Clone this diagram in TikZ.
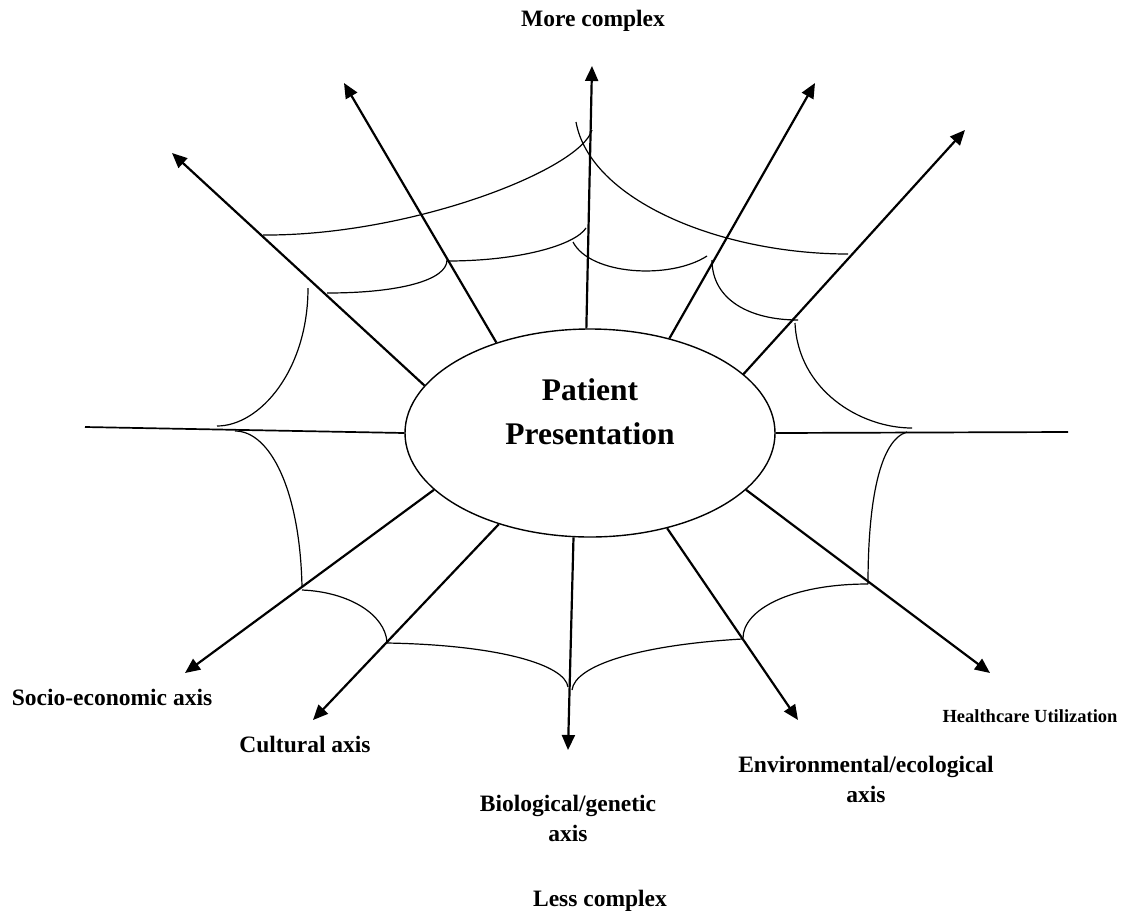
\documentclass[tikz,border=0pt]{standalone}
\usepackage{fontspec}
\setmainfont{Liberation Serif}
\usetikzlibrary{positioning}
\usetikzlibrary{arrows.meta}
\usetikzlibrary{shapes.geometric}

\begin{document}
\begin{tikzpicture}[x=1pt,y=-1pt,
	axis/.style={line width=2.2pt,-{Triangle[length=15pt,width=13pt]}},
	spoke/.style={line width=1.7pt},
	web/.style={line width=1.2pt},
	lbl/.style={font=\bfseries\fontsize{23.5}{30}\selectfont,align=center,anchor=base,inner sep=0pt},
	small/.style={font=\bfseries\fontsize{18.5}{22}\selectfont,anchor=base,inner sep=0pt},
	core/.style={ellipse,draw,line width=1.4pt,minimum width=370pt,minimum height=208pt,inner sep=0pt},
	title/.style={font=\bfseries\fontsize{31.5}{44}\selectfont,align=center,inner sep=0pt}]
	\useasboundingbox (0,0) rectangle (1123,916);

	\node[core] (patient) at (590,433) {};
	\node[title] (name) at ([yshift=21pt]patient.center) {Patient\\Presentation};

	% arrow tips
	\coordinate (tipA) at (172,153);
	\coordinate (tipB) at (344,83);
	\coordinate (tipC) at (592,66);
	\coordinate (tipD) at (815,83);
	\coordinate (tipE) at (965,130);
	\coordinate (tipF) at (990,673);
	\coordinate (tipG) at (798,720);
	\coordinate (tipH) at (568,750);
	\coordinate (tipI) at (313,720);
	\coordinate (tipJ) at (185,673);
	\coordinate (endL) at (85,427);
	\coordinate (endR) at (1068,432);

	\draw[axis] (patient.164.6) -- (tipA);
	\draw[axis] (patient.136.8) -- (tipB);
	\draw[axis] (patient.92) -- (tipC);
	\draw[axis] (patient.50.5) -- (tipD);
	\draw[axis] (patient.21.2) -- (tipE);
	\draw[axis] (patient.-20) -- (tipF);
	\draw[axis] (patient.-51.7) -- (tipG);
	\draw[axis] (patient.-99.7) -- (tipH);
	\draw[axis] (patient.-135.6) -- (tipI);
	\draw[axis] (patient.-160) -- (tipJ);
	\draw[spoke] (patient.west) -- (endL);
	\draw[spoke] (patient.east) -- (endR);

	% the web
	\draw[web] (263,235) .. controls (410,236) and (580,170) .. (592,130);
	\draw[web] (327,293) .. controls (400,293) and (447,280) .. (447,260);
	\draw[web] (447,261) .. controls (520,261) and (575,245) .. (586,228);
	\draw[web] (308,288) .. controls (308,370) and (260,426) .. (217,426);
	\draw[web] (576,122) .. controls (590,200) and (720,254) .. (848,254);
	\draw[web] (573,242) .. controls (590,275) and (670,280) .. (707,256);
	\draw[web] (712,260) .. controls (712,300) and (750,320) .. (798,320);
	\draw[web] (795,323) .. controls (798,390) and (860,428) .. (912,428);
	\draw[web] (907,432) .. controls (880,440) and (868,500) .. (868,584);
	\draw[web] (868,584) .. controls (790,584) and (743,610) .. (743,638);
	\draw[web] (742,639) .. controls (640,645) and (575,665) .. (572,690);
	\draw[web] (387,643) .. controls (500,645) and (565,665) .. (568,687);
	\draw[web] (302,590) .. controls (350,592) and (385,615) .. (387,642);
	\draw[web] (302,587) .. controls (300,490) and (270,431) .. (235,431);

	% labels
	\node[lbl] (more) at (593,26) {More complex};
	\node[lbl] (socio) at (112,705) {Socio-economic axis};
	\node[lbl] (cult) at (305,752) {Cultural axis};
	\node[lbl] (bio) at (568,841) {Biological/genetic\\axis};
	\node[lbl] (env) at (866,802) {Environmental/ecological\\axis};
	\node[small] (care) at (1030,722) {Healthcare Utilization};
	\node[lbl] (less) at (600,906) {Less complex};
\end{tikzpicture}
\end{document}
